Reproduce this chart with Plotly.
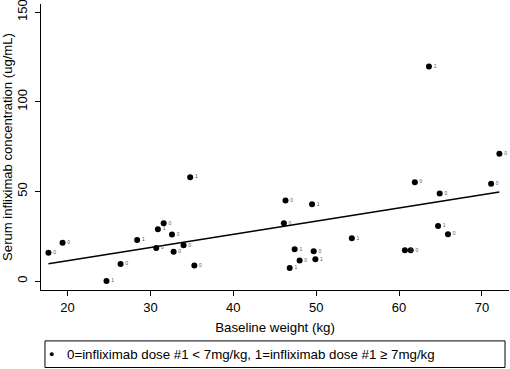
import numpy as np
import plotly.graph_objects as go

weight = [17.7, 19.4, 24.7, 26.4, 28.4, 30.7, 30.9, 31.6, 32.6, 32.8, 34.0, 34.8, 35.3,
          46.3, 46.1, 49.5, 47.4, 49.7, 48.0, 49.9, 46.8,
          72.1, 61.9, 71.1, 64.9, 54.3, 64.7, 65.9, 60.7, 61.4, 63.6]
conc = [15.8, 21.4, 0.0, 9.5, 22.9, 18.4, 28.9, 32.2, 25.9, 16.4, 19.9, 57.9, 8.6,
        44.9, 32.2, 42.8, 17.7, 16.6, 11.4, 12.1, 7.3,
        71.0, 55.1, 54.2, 48.8, 23.8, 30.7, 26.1, 17.1, 17.1, 119.6]
dose_group = ["0", "0", "1", "0", "1", "0", "1", "0", "0", "0", "0", "1", "0",
              "0", "0", "1", "1", "0", "0", "1", "1",
              "0", "0", "0", "0", "1", "1", "0", "0", "0", "1"]
x_ticks = [20, 30, 40, 50, 60, 70]
y_ticks = [0, 50, 100, 150]
legend_label = "0=infliximab dose #1 < 7mg/kg, 1=infliximab dose #1 \u2265 7mg/kg"

slope, intercept = np.polyfit(weight, conc, 1)
fit_x = np.array([min(weight), max(weight)])
fit_y = intercept + slope * fit_x

font = "Liberation Sans, Arial, sans-serif"
fig = go.Figure()
fig.add_trace(go.Scatter(
    x=fit_x, y=fit_y, mode="lines", line=dict(color="black", width=1.5),
    showlegend=False, hoverinfo="skip", cliponaxis=False))
fig.add_trace(go.Scatter(
    x=weight, y=conc, mode="markers+text", text=dose_group,
    textposition="middle right", textfont=dict(size=5, color="#555555", family=font),
    marker=dict(color="black", size=6), cliponaxis=False,
    name=legend_label, showlegend=False))

fig.update_layout(
    width=510, height=369, plot_bgcolor="white", paper_bgcolor="white",
    margin=dict(l=41, r=1, t=4, b=79, autoexpand=False),
    font=dict(family=font, color="black", size=13),
    showlegend=False,
    xaxis=dict(range=[16.8, 73.26], tickvals=x_ticks, showgrid=False, zeroline=False,
               showline=True, linecolor="black", linewidth=1, ticks="outside",
               ticklen=5, tickcolor="black", automargin=False, ticklabeloverflow="allow",
               title=dict(text="Baseline weight (kg)", standoff=9,
                          font=dict(size=13.3, family=font, color="black")),
               tickfont=dict(size=13, family=font, color="black")),
    yaxis=dict(range=[-5, 154.5], tickvals=y_ticks, showgrid=False, zeroline=False,
               showline=True, linecolor="black", linewidth=1, ticks="outside",
               ticklen=5, tickcolor="black", tickangle=-90, automargin=False,
               ticklabeloverflow="allow", ticklabelstandoff=3,
               title=dict(text="Serum infliximab concentration (ug/mL)", standoff=5,
                          font=dict(size=13.1, family=font, color="black")),
               tickfont=dict(size=13, family=font, color="black")),
    shapes=[dict(type="rect", xref="paper", yref="paper", x0=0.0085, x1=0.9915,
                 y0=-0.271, y1=-0.178, line=dict(color="black", width=1))],
    annotations=[
        dict(text="\u25CF", xref="paper", yref="paper", x=0.0214, y=-0.2238,
             xanchor="center", yanchor="middle", showarrow=False,
             font=dict(size=9, family=font, color="black")),
        dict(text=legend_label, xref="paper", yref="paper", x=0.0513, y=-0.2238,
             xanchor="left", yanchor="middle", showarrow=False,
             font=dict(size=13.3, family=font, color="black")),
    ],
)
fig.write_html("out.html", config={"displayModeBar": False},
               post_script="document.body.style.margin='0';document.body.style.overflow='hidden';")
